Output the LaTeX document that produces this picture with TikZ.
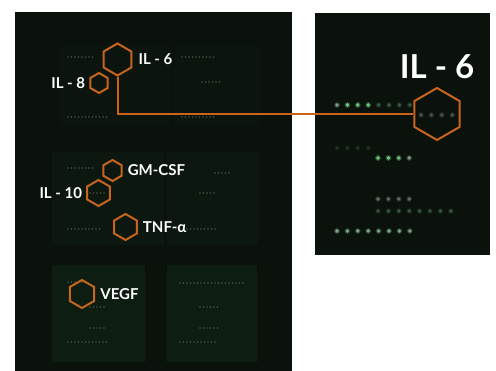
\documentclass[tikz,border=0pt]{standalone}
\usepackage{fontspec}
\setmainfont{Lato}
\usetikzlibrary{positioning}
\usetikzlibrary{shapes.geometric}
\definecolor{hex-orange}{HTML}{C8641E}
\definecolor{slide-dark}{HTML}{0A120B}
\definecolor{slide-panel}{HTML}{0E1F13}
\definecolor{spot-bright}{HTML}{6FC77C}
\definecolor{spot-dim}{HTML}{3A5A41}
\definecolor{spot-grey}{HTML}{8A978B}
\tikzset{
  cytokine-hex/.style={
    regular polygon,
    regular polygon sides=6,
    shape border rotate=90,
    draw=hex-orange,
    line width=2pt,
    inner sep=0pt,
    minimum size=#1},
  cytokine-label/.style={text=white, font=\bfseries\fontsize{15}{18}\selectfont, inner sep=0pt},
  zoom-link/.style={draw=hex-orange, line width=2pt},
  faint-panel/.style={fill=slide-panel, opacity=#1},
}
\newcommand{\tikzspotrow}[5][]{%
% one row of array spots
\foreach \spot in {1,...,#4} {%
  \fill[#1, opacity=0.35] (#2 + \spot*10.4 - 10.4, #3) circle (#5 + 1);
  \fill[#1] (#2 + \spot*10.4 - 10.4, #3) circle (#5);
}
}
\newcommand{\tikzfaintrow}[3]{%
\pgfmathsetmacro{\faintnext}{#1+3.5}
\foreach \spot in {#1,\faintnext,...,#2} {%
  \fill[spot-grey, opacity=0.45] (\spot, #3) circle (0.9);
}
}

\begin{document}
\begin{tikzpicture}[x=1pt, y=-1pt]
\useasboundingbox (0,0) rectangle (496,371);
% left slide
\fill[slide-dark] (15,12) rectangle (292,371);
\fill[faint-panel=0.3] (60,45) rectangle (170,125);
\fill[faint-panel=0.3] (175,45) rectangle (260,125);
\fill[faint-panel=0.5] (52,152) rectangle (164,245);
\fill[faint-panel=0.5] (167,152) rectangle (258,245);
\fill[faint-panel=0.85] (52,265) rectangle (145,362);
\fill[faint-panel=0.85] (167,265) rectangle (257,362);
% faint spot rows
\tikzfaintrow{68}{95}{57}
\tikzfaintrow{182}{215}{57}
\tikzfaintrow{202}{222}{82}
\tikzfaintrow{68}{107}{117}
\tikzfaintrow{182}{215}{117}
\tikzfaintrow{68}{95}{168}
\tikzfaintrow{215}{230}{173}
\tikzfaintrow{90}{107}{193}
\tikzfaintrow{200}{215}{193}
\tikzfaintrow{68}{100}{229}
\tikzfaintrow{180}{215}{229}
\tikzfaintrow{68}{83}{282}
\tikzfaintrow{180}{243}{283}
\tikzfaintrow{90}{107}{307}
\tikzfaintrow{200}{220}{307}
\tikzfaintrow{90}{105}{328}
\tikzfaintrow{200}{220}{328}
\tikzfaintrow{68}{107}{342}
\tikzfaintrow{180}{215}{342}
% right slide
\fill[slide-dark] (315,13) rectangle (490,255);
\tikzspotrow[spot-grey]{337}{105}{1}{1.8}
\tikzspotrow[spot-bright]{347.4}{105}{3}{1.9}
\tikzspotrow[spot-dim]{378.6}{105}{4}{1.8}
\tikzspotrow[spot-grey!55!black]{421}{115}{4}{1.8}
\tikzspotrow[spot-dim!60!black]{337}{148}{4}{1.6}
\tikzspotrow[spot-bright]{378}{158}{3}{1.9}
\tikzspotrow[spot-grey]{409.2}{158}{1}{1.8}
\tikzspotrow[spot-grey!70!black]{378}{199}{4}{1.8}
\tikzspotrow[spot-dim]{378}{211}{8}{1.7}
\tikzspotrow[spot-grey!60!spot-bright]{337}{231}{8}{1.8}
% cytokine spots
\node[cytokine-hex=32] (il6-spot) at (117.5,59.5) {};
\node[cytokine-hex=20] (il8-spot) at (99,83) {};
\node[cytokine-hex=21] (gmcsf-spot) at (112.5,170.5) {};
\node[cytokine-hex=26] (il10-spot) at (98.5,193) {};
\node[cytokine-hex=26] (tnf-spot) at (125.5,227) {};
\node[cytokine-hex=28] (vegf-spot) at (82,294) {};
\node[cytokine-hex=52] (il6-zoom) at (437,114) {};
\node[cytokine-label, right=6pt of il6-spot] (il6-label) {IL - 6};
\node[cytokine-label, left=4pt of il8-spot] (il8-label) {IL - 8};
\node[cytokine-label, right=5pt of gmcsf-spot] (gmcsf-label) {GM-CSF};
\node[cytokine-label, left=4pt of il10-spot] (il10-label) {IL - 10};
\node[cytokine-label, right=5pt of tnf-spot] (tnf-label) {TNF-α};
\node[cytokine-label, right=5pt of vegf-spot] (vegf-label) {VEGF};
\node[cytokine-label, font=\bfseries\fontsize{33}{38}\selectfont, above=8pt of il6-zoom] (il6-zoom-label) {IL - 6};
% link to the enlarged spot
\draw[zoom-link] (il6-spot.south) |- (il6-zoom.west);
\end{tikzpicture}
\end{document}
